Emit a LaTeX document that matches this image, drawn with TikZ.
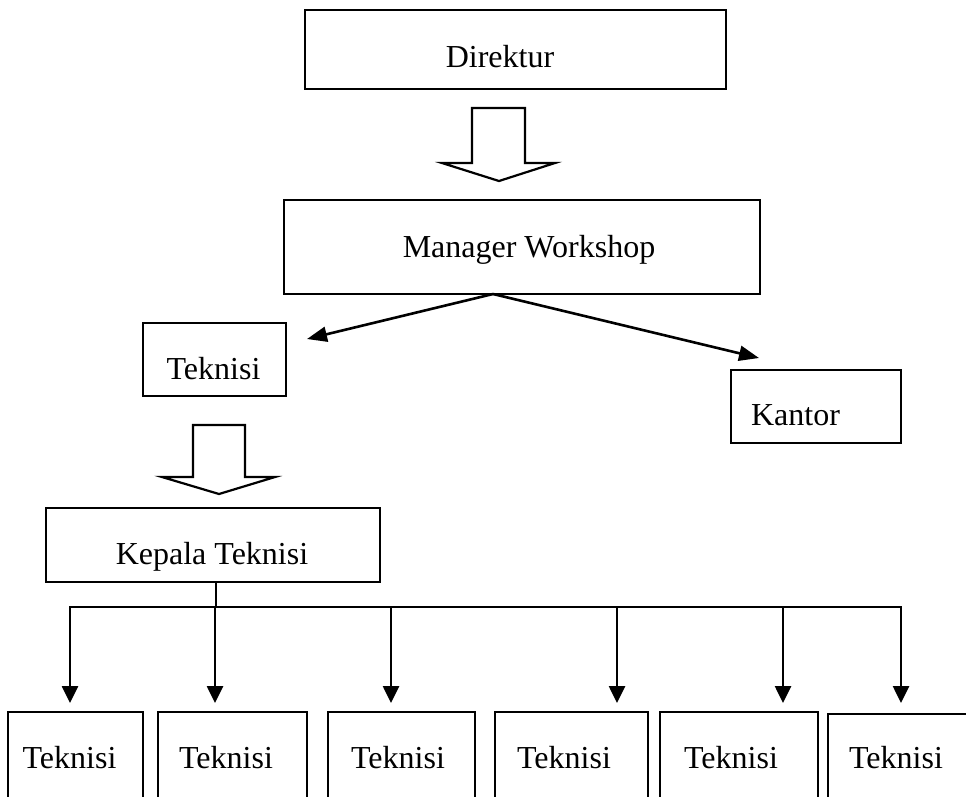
\documentclass[tikz,border=0pt]{standalone}
\usepackage{fontspec}
\setmainfont{Liberation Serif}
\usetikzlibrary{arrows.meta,calc}
\begin{document}
\begin{tikzpicture}[x=1pt,y=-1pt,
  box/.style={draw, line width=2.4pt, rectangle, inner sep=0pt, outer sep=0pt},
  lbl/.style={anchor=base, inner sep=0pt, font=\fontsize{32}{38}\selectfont},
  arr/.style={line width=2.6pt, -{Triangle[length=17pt,width=16pt]}},
  darr/.style={line width=2.6pt, -{Triangle[length=20pt,width=15pt]}},
  conn/.style={line width=2.6pt},
  blockarrow/.style={draw, line width=2.2pt, fill=white, line join=miter}]
\useasboundingbox (0,0) rectangle (966,796);
\fill[white] (0,0) rectangle (966,796);
\begin{scope}
\clip (0,0) rectangle (966,796);
% upper boxes
\node[box, minimum width=421pt, minimum height=79pt] (dir) at (515.5,49.5) {};
\node[lbl] (dirt) at (500,67) {Direktur};
\node[box, minimum width=476pt, minimum height=94pt] (man) at (522,247) {};
\node[lbl] (mant) at (529,257) {Manager Workshop};
\node[box, minimum width=143pt, minimum height=73pt] (tek) at (214.5,359.5) {};
\node[lbl] (tekt) at (213.5,379) {Teknisi};
\node[box, minimum width=170pt, minimum height=73pt] (kan) at (816,406.5) {};
\node[lbl] (kant) at (795.5,425) {Kantor};
\node[box, minimum width=334pt, minimum height=74pt] (kep) at (213,545) {};
\node[lbl] (kept) at (212,564) {Kepala Teknisi};
% bottom boxes
\node[box, minimum width=135pt, minimum height=108pt] (b1) at (75.5,766) {};
\node[lbl] (b1t) at (69.5,768) {Teknisi};
\node[box, minimum width=149pt, minimum height=108pt] (b2) at (232.5,766) {};
\node[lbl] (b2t) at (226,768) {Teknisi};
\node[box, minimum width=147pt, minimum height=108pt] (b3) at (401.5,766) {};
\node[lbl] (b3t) at (398,768) {Teknisi};
\node[box, minimum width=153pt, minimum height=108pt] (b4) at (571.5,766) {};
\node[lbl] (b4t) at (564,768) {Teknisi};
\node[box, minimum width=158pt, minimum height=108pt] (b5) at (739,766) {};
\node[lbl] (b5t) at (731,768) {Teknisi};
\node[box, minimum width=152pt, minimum height=106pt] (b6) at (904,767) {};
\node[lbl] (b6t) at (896,768) {Teknisi};
\end{scope}
% block arrows
\draw[blockarrow] (472,108) -- (525,108) -- (525,163) -- (555,163) -- (499,181) -- (442,163) -- (472,163) -- cycle;
\draw[blockarrow] (193,425) -- (245,425) -- (245,477) -- (275,477) -- (219,494) -- (162,477) -- (193,477) -- cycle;
% diagonal arrows from Manager Workshop
\coordinate (mfork) at ($(man.south)+(-29,0)$);
\coordinate (tektip) at ($(tek.north east)+(21,16)$);
\coordinate (kantip) at ($(kan.north west)+(28,-12)$);
\draw[darr] (mfork) -- (tektip);
\draw[darr] (mfork) -- (kantip);
% bus from Kepala Teknisi
\coordinate (kepout) at ($(kep.south)+(3,0)$);
\coordinate (busl) at (70,607);
\coordinate (busr) at (901,607);
\draw[conn] (kepout) -- (kepout |- busl);
\draw[conn, line cap=rect] (busl) -- (busr);
\foreach \i/\x in {1/70,2/215,3/391,4/617,5/783,6/901}{
  \coordinate (top\i) at (\x,607);
  \coordinate (tip\i) at (\x,703);
  \draw[arr] (top\i) -- (tip\i);
}
\end{tikzpicture}
\end{document}
